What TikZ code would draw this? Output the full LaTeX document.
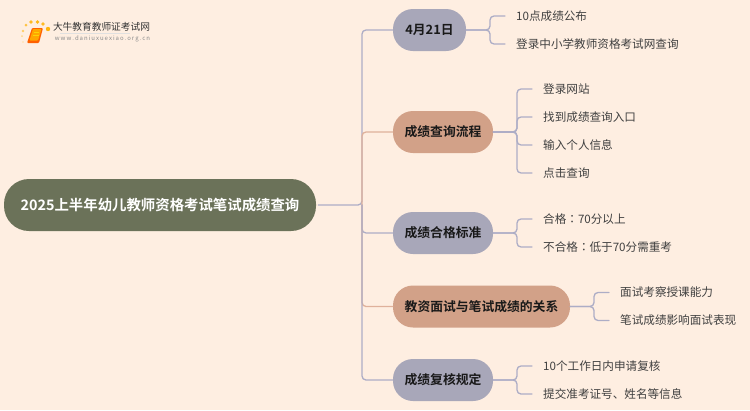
\documentclass[tikz,border=0pt]{standalone}
\usepackage{fontspec}
\setmainfont{Noto Sans CJK SC}
\newfontfamily\cjkb{Noto Sans CJK SC Bold}
\newfontfamily\cjktc{Noto Sans CJK TC}
\definecolor{bgc}{HTML}{FEEEE1}
\definecolor{rootc}{HTML}{6B7259}
\definecolor{lavc}{HTML}{A8A7B9}
\definecolor{orac}{HTML}{D2A188}
\definecolor{lavl}{HTML}{ADADC6}
\definecolor{oral}{HTML}{DFB19B}
\definecolor{leaft}{HTML}{404040}
\tikzset{
  x=1pt,y=-1pt,
  rootbox/.style={fill=rootc,rounded corners=25pt,minimum height=52pt,minimum width=312pt,inner sep=0pt,text=white,font=\cjkb\fontsize{14.4}{16}\selectfont},
  branchbox/.style={rounded corners=20pt,minimum height=42pt,inner sep=0pt,text=black!90,font=\cjkb\fontsize{12.8}{15}\selectfont},
  lavbox/.style={branchbox,fill=lavc},
  orabox/.style={branchbox,fill=orac},
  leafnode/.style={anchor=west,inner xsep=11pt,inner ysep=0pt,text=leaft,font=\fontsize{11.6}{14}\selectfont},
  conn/.style={line width=1.3pt,rounded corners=4pt,line cap=round},
  lavline/.style={conn,draw=lavl},
  oraline/.style={conn,draw=oral},
}
\begin{document}
\begin{tikzpicture}
\fill[bgc] (0,0) rectangle (750,410);
\useasboundingbox (0,0) rectangle (750,410);

% logo
\foreach \px/\py/\r/\o in {23/42/0.8/.25,22/36/1/.4,23/31/1.3/.55,26/25/1.5/.7,31/22/1.8/.85,37.5/22/1.8/.9,43/24/1.8/.85,48/29/2.2/.95}
  \fill[orange!60!yellow,opacity=\o] (\px,\py) circle (\r);
\fill[orange!75!red,rounded corners=1pt] (32,28) -- (43,28) -- (39,43) -- (27,43) -- cycle;
\fill[orange!70!yellow,rounded corners=.8pt] (33,29) -- (41.5,29) -- (38,40.5) -- (29.5,40.5) -- cycle;
\draw[yellow!70!orange,line width=.5pt] (33.5,32.5) -- (39,32.5) (33,35) -- (38.5,35);
\node[inner sep=0pt,text=black!80,font=\fontsize{9.7}{11}\selectfont] (logot) at (101.5,27) {大牛教育教师证考试网};
\draw[black!12,line width=.7pt] (60,33.5) -- (130,33.5);
\node[inner sep=0pt,text=black!45,font=\fontsize{6}{7}\selectfont,align=center] (logou) at (102.5,39) {w\,w\,w\,.\,d\,a\,n\,i\,u\,x\,u\,e\,x\,i\,a\,o\,.\,o\,r\,g\,.\,c\,n};

% nodes
\node[rootbox] (root) at (160,205) {2025上半年幼儿教师资格考试笔试成绩查询};
\node[lavbox,minimum width=73pt] (b1) at (429.5,30) {4月21日};
\node[orabox,minimum width=100pt] (b2) at (443,132) {成绩查询流程};
\node[lavbox,minimum width=100pt] (b3) at (443,233) {成绩合格标准};
\node[orabox,minimum width=177pt] (b4) at (481.5,306.5) {教资面试与笔试成绩的关系};
\node[lavbox,minimum width=100pt] (b5) at (443,380) {成绩复核规定};

\node[leafnode] (l11) at (505,16) {10点成绩公布};
\node[leafnode] (l12) at (505,44) {登录中小学教师资格考试网查询};
\node[leafnode] (l21) at (532,89) {登录网站};
\node[leafnode] (l22) at (532,117) {找到成绩查询入口};
\node[leafnode] (l23) at (532,145) {输入个人信息};
\node[leafnode] (l24) at (532,173) {点击查询};
\node[leafnode] (l31) at (532,219) {合格{\cjktc ：}70分以上};
\node[leafnode] (l32) at (532,247) {不合格{\cjktc ：}低于70分需重考};
\node[leafnode] (l41) at (609,292.5) {面试考察授课能力};
\node[leafnode] (l42) at (609,320.5) {笔试成绩影响面试表现};
\node[leafnode] (l51) at (532,366) {10个工作日内申请复核};
\node[leafnode] (l52) at (532,394) {提交准考证号、姓名等信息};

% junctions
\coordinate (rj) at (362,205);
\coordinate (j1) at (490,30);
\coordinate (j2) at (517,132);
\coordinate (j3) at (517,233);
\coordinate (j4) at (594,306.5);
\coordinate (j5) at (517,380);

% trunk connectors, in the order that lets later ones overlay earlier
\draw[lavline] (root.east) ++(2,0) -- (rj) |- (b1.west);
\draw[oraline] (rj) |- (b2.west);
\draw[lavline] (rj) |- (b3.west);
\draw[oraline] (rj) |- (b4.west);
\draw[lavline] (rj) |- (b5.west);

% leaf connectors
\foreach \j/\b/\l in {j1/b1/l11,j1/b1/l12,j2/b2/l21,j2/b2/l22,j2/b2/l23,j2/b2/l24,j3/b3/l31,j3/b3/l32,j4/b4/l41,j4/b4/l42,j5/b5/l51,j5/b5/l52}
  \draw[lavline] (\b.east) -- (\j) |- (\l.west);
\end{tikzpicture}
\end{document}
